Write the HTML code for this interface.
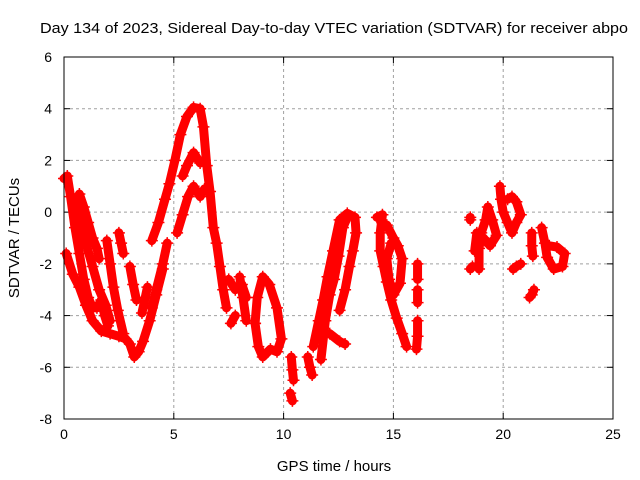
<!DOCTYPE html>
<html><head><meta charset="utf-8"><style>
body{margin:0;background:#fff;}
svg{display:block;font-family:"Liberation Sans",sans-serif;}
</style></head><body>
<svg id="chart" width="640" height="480" xmlns="http://www.w3.org/2000/svg">
<text x="334" y="33" font-size="15" text-anchor="middle" textLength="588" lengthAdjust="spacingAndGlyphs">Day 134 of 2023, Sidereal Day-to-day VTEC variation (SDTVAR) for receiver abpo</text>
<text x="334" y="471" font-size="15" text-anchor="middle">GPS time / hours</text>
<text transform="translate(19,238) rotate(-90)" font-size="15" text-anchor="middle">SDTVAR / TECUs</text>
<g id="grid"></g>
<g id="ticks"></g>
<g id="marks"></g>
<rect x="64" y="57" width="549" height="362" fill="none" stroke="#000" stroke-width="1"/>
</svg>
<script>
const xTicks=[0,5,10,15,20,25];
const yTicks=[-8,-6,-4,-2,0,2,4,6];
const track1=[[0,1.3],[0.15,1.4],[0.3,0.6],[0.5,-0.6],[0.7,-1.6],[0.9,-2.6],[1.1,-3.3],[1.3,-3.7],[1.5,-3.7],[1.7,-3.4],[1.85,-4.0],[2.0,-4.4]];
const track2=[[0.5,0.5],[0.7,-0.2],[1.0,-1.2],[1.3,-2.1],[1.6,-3.0],[1.9,-3.6],[2.1,-4.2]];
const track3=[[0.7,0.7],[0.9,0.2],[1.1,-0.4],[1.3,-1.0],[1.5,-1.4],[1.6,-1.8]];
const track4=[[0.1,-1.6],[0.4,-2.4],[0.7,-2.9],[1.0,-3.6],[1.3,-4.2],[1.7,-4.6],[2.1,-4.7],[2.5,-4.8],[2.8,-4.9],[3.0,-5.1],[3.2,-5.6],[3.4,-5.4],[3.6,-5.0],[3.9,-4.2],[4.2,-3.2],[4.5,-2.2]];
const track5=[[1.95,-1.1],[2.1,-2.0],[2.25,-2.9],[2.45,-3.8],[2.7,-4.7]];
const track6=[[2.5,-0.8],[2.6,-1.2],[2.7,-1.6]];
const track7=[[3.0,-2.1],[3.15,-2.8],[3.3,-3.4]];
const track8=[[3.55,-3.9],[3.7,-3.3],[3.8,-2.9]];
const track9=[[4.0,-1.1],[4.3,-0.4],[4.6,0.5],[4.8,1.1],[5.05,2.0],[5.3,3.0],[5.6,3.7],[5.9,4.05],[6.2,4.0],[6.35,3.3],[6.5,1.8],[6.65,0.8],[6.8,-0.6],[6.95,-1.2],[7.1,-2.1],[7.25,-3.0],[7.4,-3.7]];
const track10=[[5.15,-0.8],[5.4,-0.1],[5.65,0.6],[5.9,1.0],[6.2,0.6],[6.4,0.9]];
const track11=[[5.4,1.4],[5.6,1.8],[5.9,2.3],[6.2,1.9],[6.4,2.0]];
const track12=[[4.0,-3.7],[4.2,-3.0],[4.5,-2.0],[4.7,-1.2]];
const track13=[[7.5,-2.6],[7.8,-3.0],[8.1,-2.8],[8.3,-3.3]];
const track14=[[7.6,-4.3],[7.8,-4.0]];
const track15=[[8.0,-2.5],[8.15,-3.3],[8.3,-4.2]];
const track16=[[8.7,-4.3],[8.8,-3.3],[9.05,-2.5],[9.35,-2.8],[9.7,-3.7],[9.9,-4.9],[9.7,-5.4],[9.4,-5.3],[9.05,-5.6],[8.85,-5.2],[8.7,-4.3]];
const track17=[[10.35,-5.6],[10.4,-6.1],[10.45,-6.5]];
const track18=[[10.3,-7.0],[10.4,-7.3]];
const track19=[[11.1,-5.6],[11.2,-6.0],[11.3,-6.3]];
const track20=[[11.35,-5.2],[11.6,-4.2],[11.8,-3.4],[12.0,-2.5],[12.25,-1.5],[12.55,-0.3],[12.9,-0.05],[13.25,-0.2],[13.3,-0.8],[13.15,-1.5],[13.0,-2.1],[12.8,-3.0],[12.55,-3.8]];
const track21=[[11.7,-5.7],[11.9,-4.2],[12.1,-3.2],[12.3,-2.6],[12.5,-1.7],[12.7,-0.6],[12.9,-0.2]];
const track22=[[12.1,-4.7],[12.55,-5.0],[12.8,-5.1]];
const track23=[[14.25,-0.2],[14.5,-0.1],[14.4,-0.8],[14.4,-1.5],[14.55,-2.1],[14.7,-2.7],[14.9,-3.4],[15.15,-4.1],[15.4,-4.7],[15.6,-5.2]];
const track24=[[14.7,-0.5],[15.0,-1.0],[15.2,-1.3],[15.4,-1.8],[15.3,-2.75],[15.0,-3.2],[14.8,-2.6],[14.7,-1.8],[14.9,-1.2]];
const track25=[[16.1,-2.0],[16.1,-2.6]];
const track26=[[16.1,-3.0],[16.1,-3.5]];
const track27=[[16.1,-4.2],[16.1,-4.8],[16.05,-5.3]];
const track28=[[18.5,-0.2],[18.5,-0.3]];
const track29=[[18.5,-2.2],[18.6,-2.1]];
const track30=[[18.9,-2.2],[18.9,-1.4],[19.0,-0.8],[19.2,-0.3],[19.3,0.2],[19.5,-0.3],[19.7,-0.9],[19.4,-1.3],[19.1,-1.0],[18.8,-0.8],[18.7,-1.5]];
const track31=[[19.85,1.0],[19.9,0.5],[20.0,0.0],[20.2,-0.4],[20.4,-0.8],[20.6,-0.4],[20.8,-0.1],[20.6,0.4],[20.4,0.6],[20.2,0.5]];
const track32=[[20.45,-2.2],[20.6,-2.1],[20.8,-2.0]];
const track33=[[21.3,-0.8],[21.3,-1.3],[21.35,-1.7]];
const track34=[[21.2,-3.3],[21.3,-3.2],[21.4,-3.0]];
const track35=[[21.75,-0.6],[21.9,-1.2],[22.0,-1.75],[22.3,-2.2],[22.7,-2.1],[22.8,-1.6],[22.45,-1.35],[22.1,-1.3]];
const tracks=[track1,track2,track3,track4,track5,track6,track7,track8,track9,track10,track11,track12,track13,track14,track15,track16,track17,track18,track19,track20,track21,track22,track23,track24,track25,track26,track27,track28,track29,track30,track31,track32,track33,track34,track35];

const NS="http://www.w3.org/2000/svg";
const X0=64,X1=613,Y0=419,Y1=57;
function xs(t){return X0+(t-0)/(25-0)*(X1-X0);}
function ys(v){return Y0-(v-(-8))/(6-(-8))*(Y0-Y1);}
const grid=document.getElementById('grid'),ticks=document.getElementById('ticks'),marks=document.getElementById('marks');
function mk(tag,attrs,parent){const e=document.createElementNS(NS,tag);for(const k in attrs)e.setAttribute(k,attrs[k]);parent.appendChild(e);return e;}
xTicks.forEach(t=>{
  const x=xs(t);
  if(t>0&&t<25){const g=mk('line',{x1:x,x2:x,y1:Y1,y2:Y0,stroke:'#a0a0a0','stroke-dasharray':'3,3'},grid);
  
  }
  mk('line',{x1:x,x2:x,y1:Y0,y2:Y0-6,stroke:'#000'},ticks);
  mk('line',{x1:x,x2:x,y1:Y1,y2:Y1+6,stroke:'#000'},ticks);
  const l=mk('text',{x:x,y:Y0+20,'font-size':14,'text-anchor':'middle'},ticks);
  l.textContent=t;
  
  
});
yTicks.forEach(v=>{
  const y=ys(v);
  if(v>-8&&v<6){const g=mk('line',{x1:X0,x2:X1,y1:y,y2:y,stroke:'#a0a0a0','stroke-dasharray':'3,3'},grid);
  
  }
  mk('line',{x1:X0,x2:X0+6,y1:y,y2:y,stroke:'#000'},ticks);
  mk('line',{x1:X1,x2:X1-6,y1:y,y2:y,stroke:'#000'},ticks);
  const l=mk('text',{x:X0-12,y:y+5,'font-size':14,'text-anchor':'end'},ticks);
  l.textContent=v;
  
  
});
tracks.forEach((tr,i)=>{
  const pts=tr.map(p=>xs(p[0])+','+ys(p[1])).join(' ');
  const pl=mk('polyline',{points:pts,fill:'none',stroke:'#ff0000','stroke-width':9,'stroke-linejoin':'round','stroke-linecap':'round'},marks);
  
  
  tr.forEach(p=>{
    const x=xs(p[0]),y=ys(p[1]);
    const m=mk('path',{d:`M${x-6},${y}H${x+6}M${x},${y-6}V${y+6}`,stroke:'#ff0000','stroke-width':1.5},marks);
    
    
  });
});
</script>
</body></html>
